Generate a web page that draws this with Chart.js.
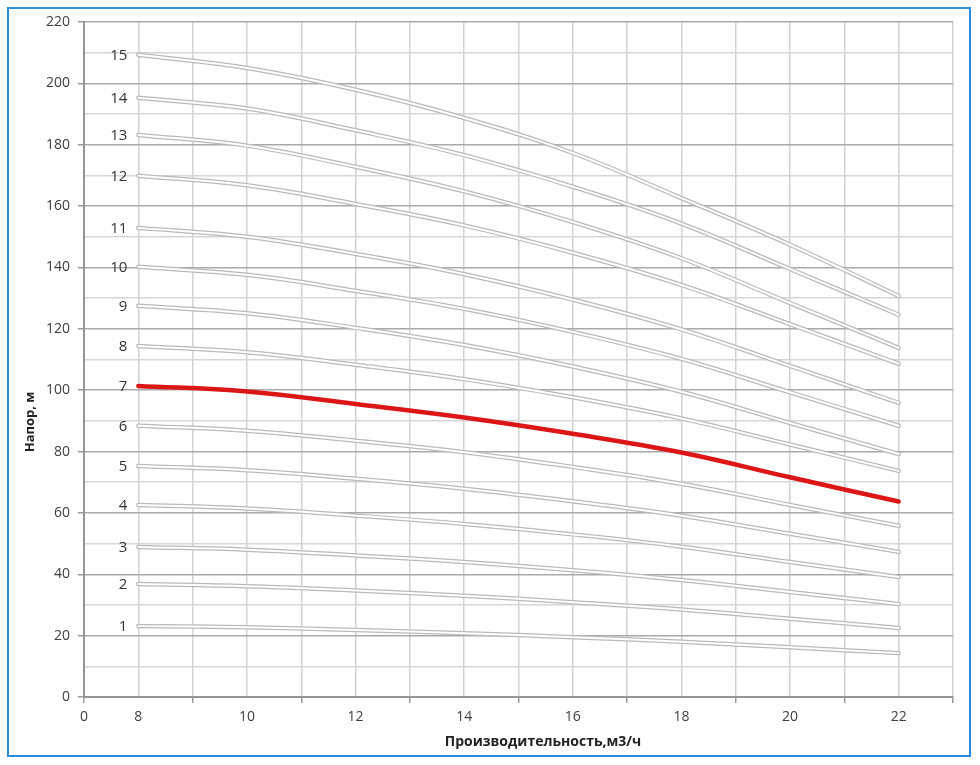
<!DOCTYPE html>
<html>
<head>
<meta charset="utf-8">
<script src="https://cdn.jsdelivr.net/npm/chart.js@4"></script>
<style>
  html, body { margin: 0; padding: 0; background: #fff; }
  #wrap { position: relative; width: 980px; height: 765px; }
  #frame { position: absolute; left: 7px; top: 7px; width: 960px; height: 746px; border: 2px solid #2b8ce0; }
  canvas { position: absolute; left: 0; top: 0; }
</style>
</head>
<body>
<div id="wrap">
  <div id="frame"></div>
  <canvas id="chart" width="980" height="765"></canvas>
</div>
<script>
// flow, m3/h
const Q = [8, 10, 12, 14, 16, 18, 20, 22];

// head, m — one array per number of stages
const H1  = [23.1, 22.7, 21.8, 20.8, 19.5, 18.0, 16.2, 14.3];
const H2  = [36.8, 36.1, 34.7, 33.0, 30.9, 28.5, 25.5, 22.5];
const H3  = [48.9, 48.0, 46.1, 44.0, 41.3, 38.1, 34.2, 30.3];
const H4  = [62.6, 61.4, 59.1, 56.4, 53.0, 49.0, 44.0, 39.1];
const H5  = [75.3, 73.9, 71.1, 67.9, 63.8, 59.1, 53.2, 47.3];
const H6  = [88.4, 86.8, 83.5, 79.8, 75.0, 69.5, 62.6, 55.8];
const H7  = [101.4, 99.6, 95.5, 91.1, 85.8, 79.7, 71.6, 63.7];
const H8  = [114.4, 112.4, 108.3, 103.6, 97.7, 90.8, 82.3, 73.7];
const H9  = [127.5, 125.1, 120.3, 114.7, 107.7, 99.5, 89.3, 79.2];
const H10 = [140.2, 137.6, 132.4, 126.5, 119.0, 110.2, 99.3, 88.4];
const H11 = [152.9, 150.0, 144.4, 137.8, 129.5, 119.8, 107.9, 95.9];
const H12 = [169.9, 166.8, 160.7, 153.7, 144.8, 134.3, 121.5, 108.6];
const H13 = [183.2, 179.7, 172.8, 164.8, 154.8, 143.0, 128.4, 113.8];
const H14 = [195.3, 191.8, 184.7, 176.6, 166.3, 154.3, 139.5, 124.6];
const H15 = [209.3, 205.0, 197.9, 188.7, 177.3, 162.6, 147.4, 130.7];

const STAGES = ["1","2","3","4","5","6","7","8","9","10","11","12","13","14","15"];
const CURVES = [H1, H2, H3, H4, H5, H6, H7, H8, H9, H10, H11, H12, H13, H14, H15];
const HIGHLIGHT = "7";

const X_TITLE = "Производительность,м3/ч";
const Y_TITLE = "Напор, м";

const FONT = "'Open Sans', 'Noto Sans', sans-serif";
const TEXT = "#404040";

const datasets = [];
CURVES.forEach((h, i) => {
  const pts = Q.map((q, k) => ({ x: q, y: h[k] }));
  const common = { data: pts, pointRadius: 0, tension: 0.4, borderCapStyle: "round", fill: false };
  if (STAGES[i] === HIGHLIGHT) {
    datasets.push({ ...common, stage: STAGES[i], borderColor: "#dc1616", borderWidth: 4.5, order: 0 });
  } else {
    datasets.push({ ...common, stage: STAGES[i], borderColor: "#bababa", borderWidth: 4.5, order: 2 });
    datasets.push({ ...common, borderColor: "#ffffff", borderWidth: 2, order: 1 });
  }
});

// stage numbers to the left of each curve + axis titles
const labelsPlugin = {
  id: "stageLabels",
  afterDatasetsDraw(chart) {
    const ctx = chart.ctx;
    ctx.save();
    ctx.fillStyle = "#333";
    ctx.font = "15px " + FONT;
    ctx.textAlign = "right";
    ctx.textBaseline = "middle";
    chart.data.datasets.forEach((ds, i) => {
      if (!ds.stage) return;
      const p = chart.getDatasetMeta(i).data[0];
      ctx.fillText(ds.stage, p.x - 11, p.y + 1);
    });
    ctx.fillStyle = "#222";
    ctx.font = "bold 14px " + FONT;
    ctx.textAlign = "center";
    ctx.fillText(X_TITLE, 543, 742);
    ctx.translate(30, 422);
    ctx.rotate(-Math.PI / 2);
    ctx.font = "bold 13px " + FONT;
    ctx.fillText(Y_TITLE, 0, 0);
    ctx.restore();
  }
};

new Chart(document.getElementById("chart"), {
  type: "line",
  data: { datasets },
  plugins: [labelsPlugin],
  options: {
    responsive: false,
    animation: false,
    layout: { padding: { top: 22, right: 27, bottom: 0, left: 0 } },
    plugins: { legend: { display: false }, tooltip: { enabled: false } },
    scales: {
      x: {
        type: "linear",
        min: 7, max: 23,
        afterFit: (s) => { s.height = 68; },
        ticks: {
          stepSize: 1,
          autoSkip: false,
          maxRotation: 0,
          color: TEXT,
          font: { family: FONT, size: 14 },
          padding: 6,
          callback: (v) => (v === 7 ? "0" : v % 2 === 0 ? String(v) : ""),
        },
        grid: {
          color: "#d2d2d2",
          lineWidth: 1.5,
          tickLength: 6,
          tickColor: (c) => (c.tick && c.tick.value % 2 === 1 ? "#999" : "rgba(0,0,0,0)"),
        },
        border: { color: "#959595", width: 2 },
      },
      y: {
        min: 0, max: 220,
        afterFit: (s) => { s.width = 84; },
        ticks: {
          stepSize: 10,
          autoSkip: false,
          color: TEXT,
          font: { family: FONT, size: 14 },
          padding: 8,
          callback: (v) => (v % 20 === 0 ? String(v) : ""),
        },
        grid: {
          color: (c) => (c.tick && c.tick.value % 20 === 0 ? "#a9a9a9" : "#d6d6d6"),
          lineWidth: 1.5,
          tickLength: 6,
          tickColor: (c) => (c.tick && c.tick.value % 20 === 0 ? "#999" : "rgba(0,0,0,0)"),
        },
        border: { color: "#959595", width: 2 },
      },
    },
  },
});
</script>
</body>
</html>
